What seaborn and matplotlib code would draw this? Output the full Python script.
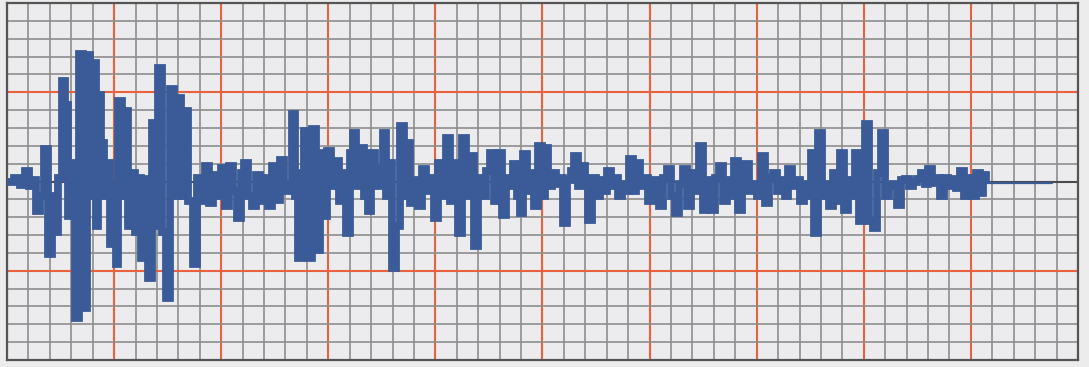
import matplotlib
matplotlib.use("Agg")
import matplotlib.pyplot as plt
from matplotlib.ticker import MultipleLocator, FixedLocator, NullFormatter
import numpy as np
import seaborn as sns

# trace: time (ms) and amplitude, drawn as steps
t = [0, 7, 13, 18, 22, 26, 29, 33, 37, 41, 45, 48, 51, 55, 58, 61, 65, 68, 72, 76,
     80, 83, 86, 89, 91, 94, 97, 100, 103, 106, 109, 111, 115, 118, 121, 124, 128, 131,
     134, 137, 141, 145, 148, 151, 155, 159, 163, 167, 171, 174, 177, 181, 186, 190, 194,
     198, 202, 206, 210, 214, 218, 222, 226, 230, 234, 237, 241, 245, 249, 253, 257, 261, 265,
     269, 273, 277, 281, 285, 288, 291, 294, 297, 301, 305, 309, 313, 317, 320, 324, 328,
     332, 336, 339, 343, 346, 349, 353, 357, 361, 364, 368, 372, 376, 379, 382, 385, 389,
     393, 397, 400,
     403, 407, 411, 415, 419, 423, 427, 431, 435, 439, 443, 447, 451, 455, 459, 463, 467,
     471, 475, 479, 483, 487, 491, 495, 499, 503, 506, 510, 513, 516, 520, 523, 527, 531, 535,
     538, 541, 545, 549, 553, 556, 560, 564, 567, 571, 574, 578, 581, 585, 589, 593, 597,
     600, 604, 608, 611, 615, 619, 622, 626, 629, 633, 637, 641, 645, 649, 652, 656, 660,
     664, 668,
     672, 676, 680, 684, 688, 692, 696, 700, 704, 708, 712, 716, 720, 724, 727, 731, 735,
     738, 742, 746, 750, 754, 758, 762, 766, 770, 774, 778, 781, 785, 789, 793, 797, 801,
     804, 807,
     811, 815, 819, 822, 826, 830, 833, 837, 841, 845, 848, 852, 855, 858, 862, 866, 870,
     874, 878, 882, 886, 890, 894, 898, 902, 906, 910, 914, 918, 921, 925, 929, 933, 937,
     941, 945, 949, 953, 957, 961, 965, 969, 973, 976, 979]
amp = [0, 4, -4, 11, -5, 2, -30, -15, 33, -73, -15, -51, 4, 101, 77, -35, 19, -137, 128, -127,
       127, -15, 119, -45, 87, 39, -15, 19, -63, -5, -83, 81, -15, 71, -45, 9, -51, 4,
       -77, 3, -97, 59, -45, 114, -51, -117, 93, -15, 84, -15, 71, -20, -83, 4, -20,
       16, -22, 7, -15, 14, -25, 16, -10, -37, 9, 19, -15, -25, 7, -20, 4, -25, 16,
       -19, 22, -10, -3, 68, -15, -77, 9, 51, -77, 53, -69, 29, -35, 31, -5, 21,
       -20, 9, -52, 29, 49, -5, 34, -15, -30, 29, -5, 14, 49, -15, 19, -87, -45,
       56, -15, 39,
       -22, 2, -25, 13, -10, 4, -37, 19, -15, 44, -20, 19, -52, 44, -15, 26, -65,
       4, -15, 11, 29, -20, 29, -34, 4, -5, 18, -15, -32, 28, -10, 9, -25, 36, -15,
       34, -5, 9, -3, 4, -42, 2, 11, 26, -5, 16, -3, -39, 4, -15, 2, -10,
       11, -5, 4, -15, -3, -10, 23, -10, 19, -5, 4, -20, 2, -10, -25, 4, 13,
       -15, -32,
       -3, 13, -25, 9, -10, 36, -29, 2, -29, 4, 16, -20, 2, -15, 21, -29, 2,
       18, -10, -3, -15, 26, -22, 4, 9, -10, 2, -15, 13, -5, 2, -20, -3, -15,
       29, -52,
       49, -15, -3, -25, 9, -20, 29, -29, 2, -15, 29, -40, -5, 58, -40, -47, 9,
       49, -15, -5, -3, -24, 2, 3, -5, 0, 3, 9, -3, 13, -2, 4, -15, 4,
       -5, 3, -7, 11, -15, 4, -15, 9, -12, 7, -3]
tail_t = [979, 1045]
tail_amp = [-2, -2]

sns.set_style("white")
fig = plt.figure(figsize=(10.89, 3.67), dpi=100)
fig.patch.set_facecolor("#ececec")
ax = fig.add_axes([7 / 1089, 7 / 367, 1071 / 1089, 357 / 367])
ax.set_facecolor("#ecebee")

sns.lineplot(x=t, y=amp, ax=ax, color="#3a5b97", linewidth=5.6, drawstyle="steps-post",
             errorbar=None, solid_joinstyle="miter", solid_capstyle="butt", zorder=3)
sns.lineplot(x=tail_t, y=tail_amp, ax=ax, color="#3a5b97", linewidth=1.6, errorbar=None, zorder=3)

ax.set_xlim(0, 1071)
ax.set_ylim(-179, 179)

# chart paper grid
ax.xaxis.set_major_locator(MultipleLocator(1071 / 10))
ax.xaxis.set_minor_locator(MultipleLocator(1071 / 50))
ax.yaxis.set_major_locator(FixedLocator([-89.5, 89.5]))
ax.yaxis.set_minor_locator(MultipleLocator(17.9))
ax.set_axisbelow(True)
ax.grid(which="minor", color="#8e8e8e", linewidth=1.2)
ax.grid(which="major", color="#e8623f", linewidth=1.5)
ax.axhline(0, color="#4a4a4a", linewidth=1.5, zorder=1)
ax.tick_params(which="both", length=0, labelbottom=False, labelleft=False)
ax.xaxis.set_minor_formatter(NullFormatter())
ax.yaxis.set_minor_formatter(NullFormatter())
ax.set_xlabel("")
ax.set_ylabel("")
for s in ax.spines.values():
    s.set_visible(True)
    s.set_color("#555555")
    s.set_linewidth(1.6)

fig.savefig("out.png", dpi=100, facecolor=fig.get_facecolor())
